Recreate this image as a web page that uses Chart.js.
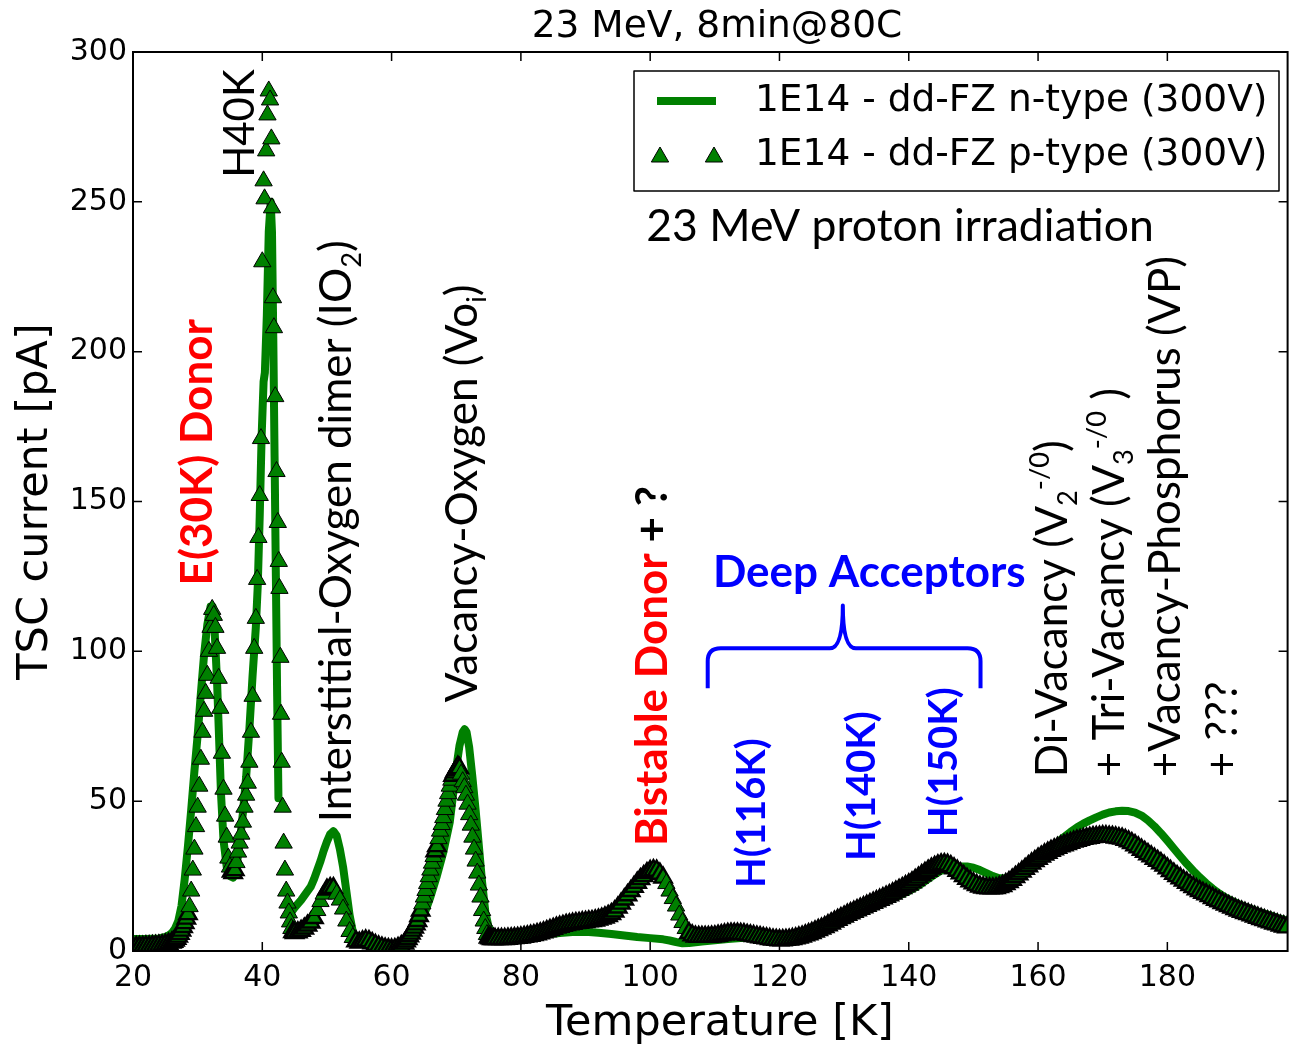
<!DOCTYPE html>
<html>
<head>
<meta charset="utf-8">
<title>TSC spectra, 23 MeV protons</title>
<script src="https://cdn.jsdelivr.net/npm/chart.js@4.4.1/dist/chart.umd.min.js"></script>
<style>
  html, body { margin: 0; padding: 0; overflow: hidden; background: #fff; }
  canvas { display: block; }
</style>
</head>
<body>
<canvas id="tsc" width="1300" height="1049"></canvas>
<script>
// TSC current vs temperature, n-type and p-type dd-FZ after 23 MeV protons
const seriesNames = ['1E14 - dd-FZ n-type (300V)', '1E14 - dd-FZ p-type (300V)'];
const xTicks = [20, 40, 60, 80, 100, 120, 140, 160, 180];
const yTicks = [0, 50, 100, 150, 200, 250, 300];

// n-type, drawn as a line (null = missing readings)
const nTemp = [
  20, 21, 22, 23, 24, 25, 25.5, 26, 26.5, 27, 27.5, 28, 28.5, 29, 29.5, 30, 30.5, 31, 31.5, 32,
  32.3, 32.6, 33, 33.3, 33.6, 34, 34.5, 35, 35.5, 36, 36.5, 37, 37.5, 38, 38.5, 39, 39.3, 39.6, 39.9, 40.2,
  40.4, 40.7, 41, 41.3, 41.5, 41.7, 41.9, 42.1, 42.3, 42.5, 43.5, 44.5, 45, 46, 47, 47.5, 48, 48.5, 49, 49.5,
  50, 50.5, 51, 51.5, 52, 52.5, 53, 53.5, 54, 54.5, 55, 56, 57, 58, 59, 60, 61, 62, 63, 64,
  65, 66, 67, 68, 69, 69.5, 70, 70.5, 71, 71.3, 71.6, 72, 72.5, 73, 73.5, 74, 74.5, 75, 75.5, 76,
  78, 80, 82, 84, 86, 88, 90, 92, 94, 96, 98, 100, 102, 103, 104, 105, 106, 108, 110, 112,
  114, 116, 118, 120, 122, 124, 126, 128, 130, 132, 134, 136, 138, 140, 141, 142, 143, 144, 145, 146,
  147, 148, 149, 150, 151, 152, 153, 154, 155, 156, 157, 158, 159, 160, 161, 162, 163, 164, 165, 166,
  167, 168, 169, 170, 171, 172, 173, 174, 175, 176, 177, 178, 179, 180, 181, 182, 183, 184, 185, 186,
  187, 188, 189, 190, 191, 192, 193, 194, 195, 196, 197, 198
];
const nCurrent = [
  4, 4, 4, 4.1, 4.2, 4.7, 5.2, 6, 7.5, 10, 15, 24, 35, 47, 60, 72, 86, 99, 109, 115,
  115, 108, 90, 72, 53, 37, 28, 25, 24.5, 28, 36, 46, 58, 74, 92, 108, 122, 145, 172, 190,
  193, 212, 240, 250, 240, 205, 165, 125, 85, 51, null, 13, 14.5, 17, 20, 21.5, 24, 27, 30, 33.5,
  36.5, 39, 40, 38.5, 34, 28, 20, 12, 6.5, 4, 3.2, 3, 2.6, 2.2, 1.8, 1.6, 2, 2.8, 4, 7,
  12, 18, 25, 33, 43, 52, 61, 68.5, 73, 74, 73, 68, 58, 47, 35, 23, 13, 8, 6.5, 6,
  5.3, 5.2, 5.3, 5.6, 6, 6.3, 6.4, 6.1, 5.7, 5.2, 4.7, 4.3, 3.9, 3.5, 3, 2.6, 2.7, 3.2, 3.6, 4,
  4.3, 4.3, 4, 3.8, 4, 4.8, 6, 7.8, 9.8, 12, 14, 16, 18, 20, 21.2, 22.5, 24, 25.5, 26.8, 27.6,
  28, 28.2, 28.2, 27.8, 27, 26, 25, 24.3, 24.3, 25, 26.3, 28, 29.8, 31.5, 33.2, 34.6, 36.2, 38, 39.7, 41.2,
  42.5, 43.6, 44.6, 45.5, 46.2, 46.6, 46.8, 46.7, 46.2, 45.2, 43.6, 41.6, 39.3, 36.8, 34.2, 31.6, 29.1, 26.8, 24.6, 22.6,
  20.8, 19.2, 17.8, 16.7, 15.7, 14.8, 14, 13.2, 12.5, 11.8, 11.1, 10.5
];

// p-type, drawn as triangle markers
const pTemp = [
  20, 20.5, 21, 21.5, 22, 22.5, 23, 23.5, 24, 24.5, 25, 25.5,
  26, 26.25, 26.5, 26.75, 27, 27.25, 27.5, 27.75,
  28, 28.25, 28.5, 28.75, 29, 29.25, 29.5, 29.75,
  30, 30.25, 30.5, 30.75, 31, 31.25, 31.5, 31.75,
  32, 32.25, 32.5, 32.75, 33, 33.25, 33.5, 33.75,
  34, 34.25, 34.5, 34.75, 35, 35.25, 35.5, 35.75,
  36, 36.25, 36.5, 36.75, 37, 37.25, 37.5, 37.75,
  38, 38.25, 38.5, 38.75,
  39, 39.2, 39.4, 39.6, 39.8, 40, 40.2, 40.35, 40.6, 40.8, 41, 41.2, 41.4, 41.5, 41.65, 41.8,
  42, 42.2, 42.4, 42.55, 42.65, 42.8, 42.9, 43, 43.15, 43.3, 43.5, 43.7, 43.9, 44.1, 44.3, 44.5, 44.75,
  45, 45.5, 46, 46.5, 47, 47.5, 48, 48.5, 49, 49.5,
  50, 50.5, 51, 51.5, 52, 52.5, 53, 53.5, 54, 54.5,
  55, 55.5, 56, 56.5, 57, 57.5, 58, 58.5, 59, 59.5,
  60, 60.5, 61, 61.5,
  62, 62.25, 62.5, 62.75, 63, 63.25, 63.5, 63.75,
  64, 64.25, 64.5, 64.75, 65, 65.25, 65.5, 65.75,
  66, 66.25, 66.5, 66.75, 67, 67.25, 67.5, 67.75,
  68, 68.25, 68.5, 68.75, 69, 69.25, 69.5, 69.75,
  70, 70.25, 70.5, 70.75, 71, 71.25, 71.5, 71.75,
  72, 72.25, 72.5, 72.75, 73, 73.25, 73.5, 73.75,
  74, 74.25, 74.5, 74.75, 75, 75.25, 75.5, 75.75,
  76, 76.5, 77, 77.5, 78, 78.5, 79, 79.5, 80, 80.5,
  81, 81.5, 82, 82.5, 83, 83.5, 84, 84.5, 85, 85.5,
  86, 86.5, 87, 87.5, 88, 88.5, 89, 89.5, 90, 90.5,
  91, 91.5, 92, 92.5, 93, 93.5, 94, 94.5, 95, 95.5,
  96, 96.5, 97, 97.5, 98, 98.5, 99, 99.5, 100, 100.5,
  101, 101.5, 102, 102.5, 103, 103.5, 104, 104.5, 105, 105.5,
  106, 106.5, 107, 107.5, 108, 108.5, 109, 109.5, 110, 110.5,
  111, 111.5, 112, 112.5, 113, 113.5, 114, 114.5, 115, 115.5,
  116, 116.5, 117, 117.5, 118, 118.5, 119, 119.5, 120, 120.5,
  121, 121.5, 122, 122.5, 123, 123.5, 124, 124.5, 125, 125.5,
  126, 126.5, 127, 127.5, 128, 128.5, 129, 129.5, 130, 130.5,
  131, 131.5, 132, 132.5, 133, 133.5, 134, 134.5, 135, 135.5,
  136, 136.5, 137, 137.5, 138, 138.5, 139, 139.5, 140, 140.5,
  141, 141.5, 142, 142.5, 143, 143.5, 144, 144.5, 145, 145.5,
  146, 146.5, 147, 147.5, 148, 148.5, 149, 149.5, 150, 150.5,
  151, 151.5, 152, 152.5, 153, 153.5, 154, 154.5, 155, 155.5,
  156, 156.5, 157, 157.5, 158, 158.5, 159, 159.5, 160, 160.5,
  161, 161.5, 162, 162.5, 163, 163.5, 164, 164.5, 165, 165.5,
  166, 166.5, 167, 167.5, 168, 168.5, 169, 169.5, 170, 170.5,
  171, 171.5, 172, 172.5, 173, 173.5, 174, 174.5, 175, 175.5,
  176, 176.5, 177, 177.5, 178, 178.5, 179, 179.5, 180, 180.5,
  181, 181.5, 182, 182.5, 183, 183.5, 184, 184.5, 185, 185.5,
  186, 186.5, 187, 187.5, 188, 188.5, 189, 189.5, 190, 190.5,
  191, 191.5, 192, 192.5, 193, 193.5, 194, 194.5, 195, 195.5,
  196, 196.5, 197, 197.5, 198, 198.5
];
const pCurrent = [
  1.3, 1.3, 1.4, 1.4, 1.5, 1.5, 1.6, 1.7, 1.8, 1.9, 2.1, 2.4,
  2.8, 3.1, 3.5, 4.1, 4.8, 5.7, 6.8, 8,
  9.3, 10.8, 12.3, 14.8, 20, 27, 34, 41.5,
  48, 55, 64, 73, 80, 86, 92, 100,
  108, 114, 112, 108, 101, 91, 81, 66,
  54, 45, 38, 31, 28, 26.5, 26, 27,
  29.5, 33, 36, 39, 43, 48, 52, 56,
  63, 73, 85, 101,
  111, 124, 138, 152, 171, 230, 257, 251, 267, 279, 287, 284, 271, 248, 218, 208,
  185, 160, 143, 130, 121, 98, 79, 63, 48, 36, 27, 20, 16, 12.7, 9.7, 7.5, 6.3,
  6, 6.2, 6.7, 7.5, 8.5, 9.5, 11, 13.5, 16.5, 19,
  20.5, 21, 21, 19, 17, 14, 10, 6.5, 4.5, 3.2,
  2.8, 3.2, 3.5, 3.3, 2.6, 2, 1.5, 1.1, 0.8, 0.6,
  0.5, 0.6, 1, 1.6,
  2.5, 3.2, 4, 4.9, 5.8, 6.8, 7.8, 8.9,
  10, 11.7, 13.5, 15.7, 18, 20.2, 22.5, 24.8,
  27, 29.3, 31.5, 33.3, 35, 37.5, 40, 42.2,
  44.5, 47.2, 50, 52.5, 55, 57, 58.5, 59.6,
  60.5, 61.5, 61, 59, 56.5, 54.5, 52, 49,
  45.5, 42, 38, 34, 30, 26, 22, 18,
  13.5, 10, 7.5, 5.5, 4.5, 4.2, 4, 4,
  4, 4, 4, 4, 4.1, 4.2, 4.3, 4.4, 4.5, 4.7,
  4.9, 5.1, 5.3, 5.6, 5.9, 6.2, 6.6, 7, 7.4, 7.8,
  8.1, 8.4, 8.7, 8.9, 9.1, 9.3, 9.4, 9.6, 9.7, 9.9,
  10, 10.2, 10.5, 10.8, 11.2, 11.7, 12.3, 13.2, 14.5, 15.8,
  17.2, 18.6, 20, 21.4, 22.8, 24, 25, 26, 26.7, 27,
  26.8, 25.8, 24.5, 22.5, 20, 17.5, 15, 12, 9.5, 7.5,
  6, 5.2, 4.8, 4.7, 4.7, 4.7, 4.7, 4.8, 4.9, 5.1,
  5.3, 5.5, 5.7, 5.8, 5.8, 5.8, 5.7, 5.6, 5.4, 5.2,
  5, 4.8, 4.6, 4.4, 4.2, 4, 3.8, 3.7, 3.6, 3.6,
  3.7, 3.8, 4, 4.2, 4.5, 4.8, 5.2, 5.6, 6, 6.5,
  7, 7.5, 8, 8.6, 9.2, 9.8, 10.4, 11, 11.5, 12.1,
  12.6, 13.1, 13.6, 14.1, 14.6, 15.1, 15.6, 16.1, 16.6, 17.1,
  17.6, 18.1, 18.6, 19.2, 19.8, 20.4, 21, 21.6, 22.2, 22.9,
  23.7, 24.5, 25.3, 26.1, 26.8, 27.5, 28.1, 28.6, 28.9, 29,
  28.8, 28.3, 27.6, 26.8, 25.9, 25, 24.1, 23.3, 22.6, 22,
  21.5, 21.2, 21, 20.9, 20.9, 21, 21.3, 21.7, 22.3, 23,
  23.8, 24.7, 25.6, 26.5, 27.4, 28.3, 29.2, 30, 30.8, 31.5,
  32.2, 32.8, 33.4, 33.9, 34.4, 34.9, 35.3, 35.7, 36.1, 36.5,
  36.8, 37.1, 37.4, 37.6, 37.8, 38, 38.1, 38.2, 38.3, 38.3,
  38.2, 38.1, 37.9, 37.7, 37.5, 37.1, 36.6, 36, 35.3, 34.6,
  33.8, 33.1, 32.3, 31.6, 30.8, 30.1, 29.3, 28.5, 27.6, 26.7,
  25.8, 25, 24.3, 23.5, 22.8, 22, 21.3, 20.6, 20, 19.4,
  18.9, 18.3, 17.7, 17.1, 16.6, 16, 15.5, 15, 14.5, 14,
  13.5, 13.1, 12.7, 12.3, 11.9, 11.5, 11.1, 10.7, 10.3, 9.9,
  9.6, 9.2, 8.9, 8.5, 8.2, 7.9
];

const GREEN = '#008000';
const RED = '#ff0000';
const BLUE = '#0000ff';
const AXIS_FONT = '"DejaVu Sans", "Bitstream Vera Sans", sans-serif';
const NOTE_FONT = 'Lato, "Open Sans", sans-serif';
const MARKER_R = 10;
const TICK_LEN = 9;

// peak labels, anchored in data units: [temperature, current]
// rotated ones start at the anchor and read upwards, centred on the temperature
const notes = [
  { at: [29.8, 122], size: 44, bold: true, runs: [{ text: 'E(30K) Donor', color: RED }] },
  { at: [36.4, 258], size: 42, runs: [{ text: 'H40K' }] },
  { at: [51.3, 43], size: 44, runs: [{ text: 'Interstitial-Oxygen dimer (IO' }, { text: '2', sub: true }, { text: ')' }] },
  { at: [70.7, 83], size: 44, runs: [{ text: 'Vacancy-Oxygen (Vo' }, { text: 'i', sub: true }, { text: ')' }] },
  { at: [100.2, 35], size: 44, bold: true, runs: [{ text: 'Bistable Donor', color: RED }, { text: ' + ?' }] },
  { at: [115.5, 21], size: 40, bold: true, runs: [{ text: 'H(116K)', color: BLUE }] },
  { at: [132.6, 30], size: 40, bold: true, runs: [{ text: 'H(140K)', color: BLUE }] },
  { at: [145.2, 38], size: 40, bold: true, runs: [{ text: 'H(150K)', color: BLUE }] },
  { at: [162.0, 58], size: 44, runs: [{ text: 'Di-Vacancy (V' }, { text: '2', sub: true }, { text: '-/0', sup: true }, { text: ')' }] },
  { at: [170.8, 58], size: 44, runs: [{ text: '+ Tri-Vacancy (V' }, { text: '3', sub: true }, { text: '-/0', sup: true }, { text: ' )' }] },
  { at: [179.5, 58], size: 44, runs: [{ text: '+Vacancy-Phosphorus (VP)' }] },
  { at: [188.4, 58], size: 44, runs: [{ text: '+ ???' }] },
  // horizontal ones: anchor is left end of the baseline
  { at: [109.7, 121.5], size: 44, bold: true, flat: true, runs: [{ text: 'Deep Acceptors', color: BLUE }] },
  { at: [99.4, 237], size: 44.5, flat: true, runs: [{ text: '23 MeV proton irradiation' }] }
];

// curly brace over the three deep acceptor levels
const brace = { from: 108.9, to: 151.1, tip: 129.8, foot: 87.7, bar: 101, peak: 115.3 };

function drawRuns(ctx, runs, size, bold, x0, base) {
  let x = x0;
  for (const r of runs) {
    const s = (r.sub || r.sup) ? size * 0.62 : size;
    ctx.font = (bold ? 'bold ' : '') + s + 'px ' + NOTE_FONT;
    ctx.fillStyle = r.color || '#000';
    const dy = r.sub ? size * 0.22 : (r.sup ? -size * 0.4 : 0);
    ctx.fillText(r.text, x, base + dy);
    x += ctx.measureText(r.text).width;
  }
}

function triangle(ctx, x, y, r) {
  // same shape Chart.js uses for pointStyle 'triangle'
  const third = 2 * Math.PI / 3;
  ctx.beginPath();
  for (let i = 0; i < 3; i++) {
    const a = i * third;
    const px = x + Math.sin(a) * r, py = y - Math.cos(a) * r;
    if (i === 0) ctx.moveTo(px, py); else ctx.lineTo(px, py);
  }
  ctx.closePath();
  ctx.fillStyle = GREEN;
  ctx.fill();
  ctx.lineWidth = 1;
  ctx.strokeStyle = '#000';
  ctx.stroke();
}

// markers that sit close to their neighbour pile up into a dark band,
// so give them a heavier outline; isolated markers keep a thin one
function markerEdge(c) {
  const pts = c.dataset.data, i = c.dataIndex;
  if (i === 0) return 2.4;
  const { x, y } = c.chart.scales;
  const dx = x.getPixelForValue(pts[i].x) - x.getPixelForValue(pts[i - 1].x);
  const dy = y.getPixelForValue(pts[i].y) - y.getPixelForValue(pts[i - 1].y);
  return Math.hypot(dx, dy) < 6 ? 2.4 : 1;
}

const overlay = {
  id: 'overlay',
  afterDatasetsDraw(chart) {
    const { ctx, chartArea: a, scales: { x, y } } = chart;
    ctx.save();

    // frame and inward ticks on all four sides
    ctx.strokeStyle = '#000';
    ctx.lineWidth = 1.5;
    ctx.beginPath();
    for (const v of xTicks) {
      const px = x.getPixelForValue(v);
      ctx.moveTo(px, a.bottom); ctx.lineTo(px, a.bottom - TICK_LEN);
      ctx.moveTo(px, a.top); ctx.lineTo(px, a.top + TICK_LEN);
    }
    for (const v of yTicks) {
      const py = y.getPixelForValue(v);
      ctx.moveTo(a.left, py); ctx.lineTo(a.left + TICK_LEN, py);
      ctx.moveTo(a.right, py); ctx.lineTo(a.right - TICK_LEN, py);
    }
    ctx.stroke();
    ctx.lineWidth = 2;
    ctx.strokeRect(a.left, a.top, a.right - a.left, a.bottom - a.top);

    // title and axis titles
    ctx.fillStyle = '#000';
    ctx.font = '37.5px ' + AXIS_FONT;
    ctx.textAlign = 'center';
    ctx.textBaseline = 'middle';
    ctx.fillText('23 MeV, 8min@80C', 717, 27);
    ctx.font = '43px ' + AXIS_FONT;
    ctx.fillText('Temperature [K]', 720, 1024);
    ctx.save();
    ctx.translate(36, (a.top + a.bottom) / 2);
    ctx.rotate(-Math.PI / 2);
    ctx.fillText('TSC current [pA]', 0, 0);
    ctx.restore();

    // peak labels
    ctx.textAlign = 'left';
    ctx.textBaseline = 'alphabetic';
    for (const n of notes) {
      const px = x.getPixelForValue(n.at[0]);
      const py = y.getPixelForValue(n.at[1]);
      if (n.flat) {
        drawRuns(ctx, n.runs, n.size, n.bold, px, py);
      } else {
        ctx.save();
        ctx.translate(px, py);
        ctx.rotate(-Math.PI / 2);
        drawRuns(ctx, n.runs, n.size, n.bold, 0, n.size * 0.36);
        ctx.restore();
      }
    }

    // brace
    const bx0 = x.getPixelForValue(brace.from), bx1 = x.getPixelForValue(brace.to);
    const bt = x.getPixelForValue(brace.tip);
    const yFoot = y.getPixelForValue(brace.foot), yBar = y.getPixelForValue(brace.bar);
    const yPeak = y.getPixelForValue(brace.peak);
    const c = 13;
    ctx.strokeStyle = BLUE;
    ctx.lineWidth = 4;
    ctx.lineJoin = 'round';
    ctx.beginPath();
    ctx.moveTo(bx0, yFoot);
    ctx.lineTo(bx0, yBar + c);
    ctx.quadraticCurveTo(bx0, yBar, bx0 + c, yBar);
    ctx.lineTo(bt - c, yBar);
    ctx.quadraticCurveTo(bt, yBar, bt, yPeak);
    ctx.quadraticCurveTo(bt, yBar, bt + c, yBar);
    ctx.lineTo(bx1 - c, yBar);
    ctx.quadraticCurveTo(bx1, yBar, bx1, yBar + c);
    ctx.lineTo(bx1, yFoot);
    ctx.stroke();

    // legend
    ctx.fillStyle = '#fff';
    ctx.fillRect(634, 71, 645, 120);
    ctx.strokeStyle = '#000';
    ctx.lineWidth = 1.5;
    ctx.strokeRect(634, 71, 645, 120);
    ctx.strokeStyle = GREEN;
    ctx.lineWidth = 8;
    ctx.lineCap = 'butt';
    ctx.beginPath();
    ctx.moveTo(657, 101); ctx.lineTo(716, 101);
    ctx.stroke();
    triangle(ctx, 660, 157, MARKER_R);
    triangle(ctx, 714, 157, MARKER_R);
    ctx.fillStyle = '#000';
    ctx.font = '37.5px ' + AXIS_FONT;
    ctx.textBaseline = 'middle';
    ctx.fillText(seriesNames[0], 755, 101);
    ctx.fillText(seriesNames[1], 755, 155);

    ctx.restore();
  }
};

const tickFont = { family: AXIS_FONT, size: 30 };

new Chart(document.getElementById('tsc'), {
  type: 'scatter',
  data: {
    datasets: [
      {
        label: seriesNames[1],
        data: pTemp.map((t, i) => ({ x: t, y: pCurrent[i] })),
        showLine: false,
        pointStyle: 'triangle',
        pointRadius: MARKER_R,
        pointBackgroundColor: GREEN,
        pointBorderColor: '#000',
        pointBorderWidth: markerEdge,
        clip: 0,
        order: 0
      },
      {
        label: seriesNames[0],
        data: nTemp.map((t, i) => ({ x: t, y: nCurrent[i] })),
        showLine: true,
        spanGaps: false,
        borderColor: GREEN,
        borderWidth: 8,
        borderJoinStyle: 'round',
        borderCapStyle: 'round',
        pointRadius: 0,
        tension: 0,
        clip: 0,
        order: 1
      }
    ]
  },
  options: {
    responsive: false,
    animation: false,
    devicePixelRatio: 1,
    events: [],
    layout: { padding: { top: 52, right: 4, bottom: 0, left: 0 } },
    plugins: { legend: { display: false }, tooltip: { enabled: false } },
    scales: {
      x: {
        type: 'linear',
        min: 20,
        max: 198.6,
        afterBuildTicks: s => { s.ticks = xTicks.map(v => ({ value: v })); },
        afterFit: s => { s.height = 98; },
        grid: { display: false, drawTicks: false },
        border: { display: false },
        ticks: { font: tickFont, color: '#000', padding: 9, maxRotation: 0, autoSkip: false }
      },
      y: {
        min: 0,
        max: 300,
        afterBuildTicks: s => { s.ticks = yTicks.map(v => ({ value: v })); },
        afterFit: s => { s.width = 133; },
        grid: { display: false, drawTicks: false },
        border: { display: false },
        ticks: { font: tickFont, color: '#000', padding: 6 }
      }
    }
  },
  plugins: [overlay]
});
</script>
</body>
</html>
